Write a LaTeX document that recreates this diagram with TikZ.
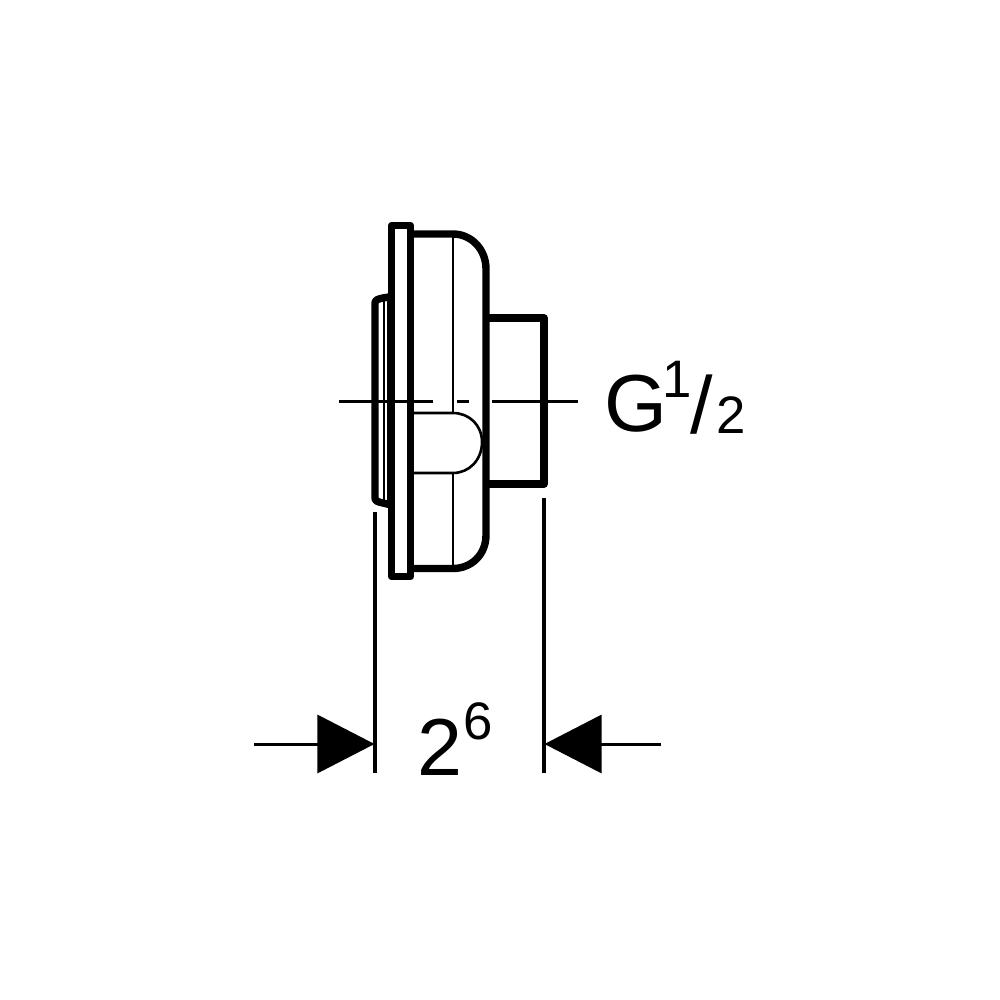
\documentclass[tikz,border=0pt]{standalone}
\usepackage{fontspec}
\setmainfont{Liberation Sans}
\usetikzlibrary{arrows.meta}
\tikzset{
  heavy/.style={line width=0.074cm,line join=round},
  thin line/.style={line width=0.026cm},
  axis line/.style={line width=0.03cm},
  ext line/.style={line width=0.035cm},
  dim arrow/.style={line width=0.03cm,-{Triangle[length=0.57cm,width=0.58cm]}},
  big text/.style={inner sep=0pt,anchor=base west,font=\fontsize{23}{23}\selectfont},
  small text/.style={inner sep=0pt,anchor=base west,font=\fontsize{15}{15}\selectfont}
}
\begin{document}
\begin{tikzpicture}[x=0.01cm,y=-0.01cm]
\useasboundingbox (0,0) rectangle (1000,1000);
% flange
\draw[heavy] (391.5,225.5) rectangle (410.5,576.5);
% body
\draw[heavy] (410.5,234) to (453,234) .. controls (471,234) and (486,249) .. (486,269) to (486,535) .. controls (486,555) and (471,568.5) .. (453,568.5) to (410.5,568.5);
\draw[heavy] (486,318) to (544,318) to (544,484) to (486,484);
% cover plate
\draw[heavy] (391.5,296.5) to (383,298) .. controls (378,299) and (375,300) .. (375,303) to (375,498) .. controls (375,501) and (378,502) .. (383,503) to (391.5,505);
\draw[thin line] (384,299) to (384,502);
\draw[thin line] (388,298) to (388,503);
% thin details
\draw[thin line] (453,234) to (453,413);
\draw[thin line] (453,473) to (453,568);
\draw[thin line] (414,413) to (453,413) .. controls (469,413) and (482,425) .. (482,442) .. controls (482,460) and (469,473) .. (453,473) to (414,473);
% axis
\draw[axis line] (339,401) to (433,401);
\draw[axis line] (457,401) to (469,401);
\draw[axis line] (492,401) to (578,401);
% dimension
\coordinate (extLa) at (375,512);
\coordinate (extLb) at (375,773);
\coordinate (extRa) at (544,498);
\coordinate (extRb) at (544,773);
\coordinate (arrL) at (254,744);
\coordinate (tipL) at (374.5,744);
\coordinate (arrR) at (661,744);
\coordinate (tipR) at (544.5,744);
\draw[ext line] (extLa) to (extLb);
\draw[ext line] (extRa) to (extRb);
\draw[dim arrow] (arrL) to (tipL);
\draw[dim arrow] (arrR) to (tipR);
% labels
\node[big text] (dimtwo) at (417,775){2};
\node[small text] (dimsix) at (463,739){6};
\node[big text] (thread) at (604,431){G};
\node[small text] (threadone) at (662,397){1};
\node[big text] (threadslash) at (690,433){/};
\node[small text] (threadtwo) at (716,433){2};
\end{tikzpicture}
\end{document}
